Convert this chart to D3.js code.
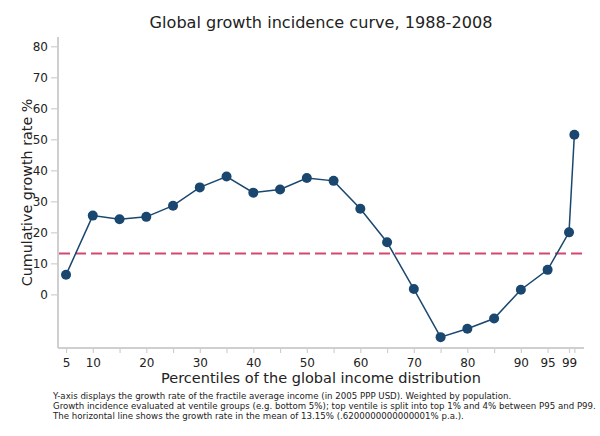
<!DOCTYPE html>
<html><head><meta charset="utf-8">
<script src="https://cdn.jsdelivr.net/npm/d3@7"></script>
<style>body{margin:0;background:#fff}svg{display:block}text{font-family:"DejaVu Sans",Verdana,sans-serif}</style>
</head><body><svg id="c" width="600" height="436"></svg>
<script>
const percentiles = [5,10,15,20,25,30,35,40,45,50,55,60,65,70,75,80,85,90,95,99,100];
const growth = [6.3,25.4,24.2,25.0,28.6,34.5,38.0,32.8,33.8,37.5,36.6,27.6,16.8,1.7,-13.8,-11.1,-7.8,1.5,7.9,20.0,51.5];
const meanGrowth = 13.15;
const xTicks = [5,10,15,20,25,30,35,40,45,50,55,60,65,70,75,80,85,90,95,99,100];
const xTickLabels = {5:"5",10:"10",20:"20",30:"30",40:"40",50:"50",60:"60",70:"70",80:"80",90:"90",95:"95",99:"99"};
const yTicks = [0,10,20,30,40,50,60,70,80];
const title = "Global growth incidence curve, 1988-2008";
const xTitle = "Percentiles of the global income distribution";
const yTitle = "Cumulative growth rate %";
const notes = [
 "Y-axis displays the growth rate of the fractile average income (in 2005 PPP USD). Weighted by population.",
 "Growth incidence evaluated at ventile groups (e.g. bottom 5%); top ventile is split into top 1% and 4% between P95 and P99.",
 "The horizontal line shows the growth rate in the mean of 13.15% (.6200000000000001% p.a.)."
];

const svg = d3.select("#c");
const L=58, R=584, T=37, B=348;
const x = d3.scaleLinear().domain([3.5,101.8]).range([L,R]);
const y = d3.scaleLinear().domain([-17.3,83]).range([B,T]);
const axisCol="#cfcfcf", txtCol="#222";

// x axis
const xa = svg.append("g").attr("transform",`translate(0,${B})`)
 .call(d3.axisBottom(x).tickValues(xTicks).tickSize(5).tickPadding(5).tickFormat(d=>xTickLabels[d]||""));
xa.select(".domain").attr("d",`M${L},0H${R}`).attr("stroke",axisCol).attr("stroke-width",2);
xa.selectAll(".tick line").attr("stroke",axisCol).attr("stroke-width",1.2);
xa.selectAll(".tick text").attr("fill",txtCol).style("font-size","12px").style("font-family","DejaVu Sans, Verdana, sans-serif");

// y axis
const ya = svg.append("g").attr("transform",`translate(${L},0)`)
 .call(d3.axisLeft(y).tickValues(yTicks).tickSize(7).tickPadding(3));
ya.select(".domain").attr("d",`M0,${T}V${B}`).attr("stroke",axisCol).attr("stroke-width",2);
ya.selectAll(".tick line").attr("stroke",axisCol).attr("stroke-width",1.2);
ya.selectAll(".tick text").attr("fill",txtCol).style("font-size","12px").style("font-family","DejaVu Sans, Verdana, sans-serif");

// mean line
svg.append("line").attr("x1",L+1).attr("x2",R).attr("y1",y(meanGrowth)).attr("y2",y(meanGrowth))
 .attr("stroke","#d2496f").attr("stroke-width",2).attr("stroke-dasharray","11,5");

const data = percentiles.map((p,i)=>({p,g:growth[i]}));
svg.append("path").datum(data).attr("fill","none").attr("stroke","#1a476f").attr("stroke-width",1.5)
 .attr("d",d3.line().x(d=>x(d.p)).y(d=>y(d.g)));
svg.selectAll("circle.pt").data(data).enter().append("circle").attr("class","pt")
 .attr("cx",d=>x(d.p)).attr("cy",d=>y(d.g)).attr("r",5).attr("fill","#1a476f");

svg.append("text").attr("x",321).attr("y",28).attr("text-anchor","middle").attr("fill",txtCol).style("font-size","16.1px").text(title);
svg.append("text").attr("x",321).attr("y",383).attr("text-anchor","middle").attr("fill",txtCol).style("font-size","14.5px").text(xTitle);
svg.append("text").attr("transform","translate(32,192.5) rotate(-90)").attr("text-anchor","middle").attr("fill",txtCol).style("font-size","14.3px").text(yTitle);
svg.selectAll("text.note").data(notes).enter().append("text").attr("class","note")
 .attr("x",53).attr("y",(d,i)=>399+i*10).attr("fill",txtCol).style("font-size","8.65px").text(d=>d);
</script></body></html>
